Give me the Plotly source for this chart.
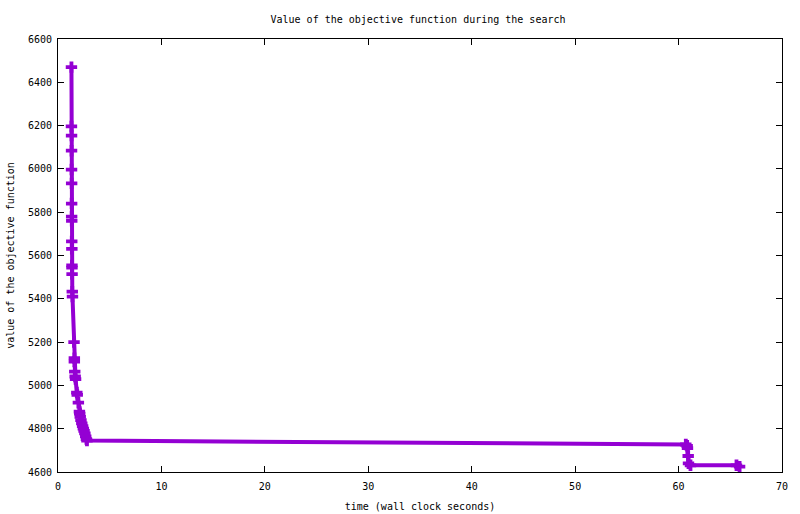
import plotly.graph_objects as go

# wall clock seconds and objective values
times = [1.30, 1.30, 1.31, 1.31, 1.31, 1.32, 1.32, 1.32, 1.33, 1.33, 1.34,
         1.35, 1.35, 1.36, 1.38, 1.40, 1.55, 1.58, 1.58, 1.62, 1.66, 1.70,
         1.82, 1.86, 1.97, 2.07, 2.10, 2.15, 2.22, 2.30, 2.38, 2.45, 2.52,
         2.60, 2.68, 2.75, 2.80,
         60.70, 60.83, 60.86, 60.93, 60.96, 61.15, 65.60, 65.90]
values = [6470, 6196, 6154, 6084, 5997, 5933, 5840, 5780, 5760, 5665, 5631,
          5554, 5544, 5514, 5433, 5410, 5200, 5126, 5110, 5064, 5041, 5029,
          4967, 4956, 4920, 4879, 4870, 4855, 4840, 4825, 4812, 4800, 4790,
          4778, 4765, 4752, 4745,
          4727, 4721, 4710, 4674, 4640, 4631, 4631, 4625]

x_ticks = [0, 10, 20, 30, 40, 50, 60, 70]
y_ticks = [4600, 4800, 5000, 5200, 5400, 5600, 5800, 6000, 6200, 6400, 6600]

font = "DejaVu Sans Mono"

fig = go.Figure()
fig.add_trace(go.Scatter(
    x=times, y=values, mode="lines+markers",
    line=dict(color="#9400d3", width=4),
    marker=dict(symbol="cross", size=9.5, color="#9400d3", line=dict(width=0)),
    showlegend=False,
))

axis_style = dict(
    showline=True, linecolor="black", linewidth=1, mirror="ticks",
    ticks="inside", ticklen=6, tickcolor="black", showgrid=False,
    zeroline=False, automargin=False,
    tickfont=dict(family=font, size=10, color="black"),
)

fig.update_xaxes(range=[0, 70], tickvals=x_ticks, ticklabelstandoff=5,
                 title=dict(text="time (wall clock seconds)", standoff=11,
                            font=dict(family=font, size=10, color="black")),
                 **axis_style)
fig.update_yaxes(range=[4600, 6600], tickvals=y_ticks, ticklabelstandoff=3,
                 title=dict(text="value of the objective function", standoff=11,
                            font=dict(family=font, size=10, color="black")),
                 **axis_style)

fig.update_layout(
    width=800, height=514,
    margin=dict(l=58, r=18, t=39, b=42),
    paper_bgcolor="white", plot_bgcolor="white",
    title=dict(text="Value of the objective function during the search",
               xref="container", x=0.5225, xanchor="center",
               yref="container", y=0.963, yanchor="middle",
               font=dict(family=font, size=10, color="black")),
)

# the page body has an 8px margin by default; drop it so the figure sits at 0,0
fig.write_html("out.html", config={"displayModeBar": False},
               post_script="document.body.style.margin='0';")
